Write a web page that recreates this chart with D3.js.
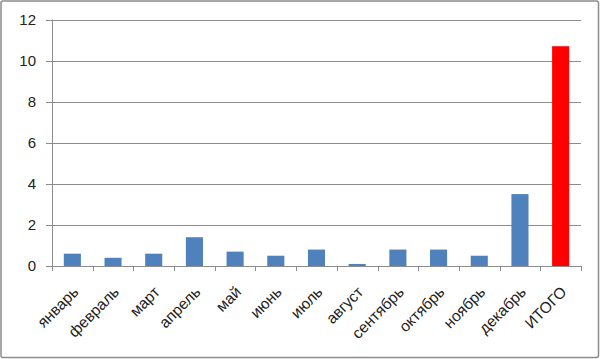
<!DOCTYPE html>
<html><head><meta charset="utf-8">
<script src="https://cdn.jsdelivr.net/npm/d3@7"></script>
<style>body{margin:0;background:#fff}svg{display:block}</style>
</head><body>
<script>
const categories = ["январь","февраль","март","апрель","май","июнь","июль","август","сентябрь","октябрь","ноябрь","декабрь","ИТОГО"];
const values = [0.6,0.4,0.6,1.4,0.7,0.5,0.8,0.1,0.8,0.8,0.5,3.5,10.7];
const barColors = ["#4F81BD","#4F81BD","#4F81BD","#4F81BD","#4F81BD","#4F81BD","#4F81BD","#4F81BD","#4F81BD","#4F81BD","#4F81BD","#4F81BD","#FF0000"];
const yTicks = [0,2,4,6,8,10,12];

const W=600,H=359;
const m={left:52,right:19,top:19.5,bottom:93};
const svg=d3.select("body").append("svg").attr("width",W).attr("height",H);
svg.append("rect").attr("x",1).attr("y",1).attr("width",W-2.5).attr("height",H-2.5)
  .attr("fill","#fff").attr("stroke","#8c8c8c").attr("stroke-width",1.5).attr("rx",2);

const x=d3.scaleBand().domain(categories).range([m.left,W-m.right]).paddingInner(0.58).paddingOuter(0.29);
const xb=d3.scaleBand().domain(categories).range([m.left,W-m.right]);
const y=d3.scaleLinear().domain([0,12]).range([H-m.bottom,m.top]);

const font="Liberation Sans, Arial, sans-serif";
const g=svg.append("g");
g.selectAll("line.grid").data(yTicks).enter().append("line")
 .attr("x1",m.left-6).attr("x2",W-m.right)
 .attr("y1",d=>Math.round(y(d))+0.5).attr("y2",d=>Math.round(y(d))+0.5)
 .attr("stroke","#8c8c8c").attr("stroke-width",1);
g.append("line").attr("x1",m.left+0.5).attr("x2",m.left+0.5).attr("y1",y(12)).attr("y2",y(0))
 .attr("stroke","#8c8c8c");
g.selectAll("text.yl").data(yTicks).enter().append("text")
 .attr("x",36).attr("y",d=>y(d)).attr("dy","0.36em").attr("text-anchor","end")
 .attr("font-family",font).attr("font-size",15).attr("fill","#222")
 .text(d=>d);
g.selectAll("rect.bar").data(values).enter().append("rect")
 .attr("x",(d,i)=>x(categories[i])).attr("width",x.bandwidth())
 .attr("y",d=>y(d)).attr("height",d=>y(0)-y(d))
 .attr("fill",(d,i)=>barColors[i]);
const tickXs=categories.map(c=>xb(c)).concat([W-m.right]);
g.selectAll("line.xt").data(tickXs).enter().append("line")
 .attr("x1",d=>Math.round(d)+0.5).attr("x2",d=>Math.round(d)+0.5)
 .attr("y1",y(0)).attr("y2",y(0)+5).attr("stroke","#8c8c8c");
g.selectAll("text.xl").data(categories).enter().append("text")
 .attr("transform",c=>`translate(${xb(c)+xb.bandwidth()/2+7},${y(0)+27}) rotate(-45)`)
 .attr("text-anchor","end")
 .attr("font-family",font).attr("font-size",15.5).attr("fill","#222")
 .text(c=>c);
</script>
</body></html>
